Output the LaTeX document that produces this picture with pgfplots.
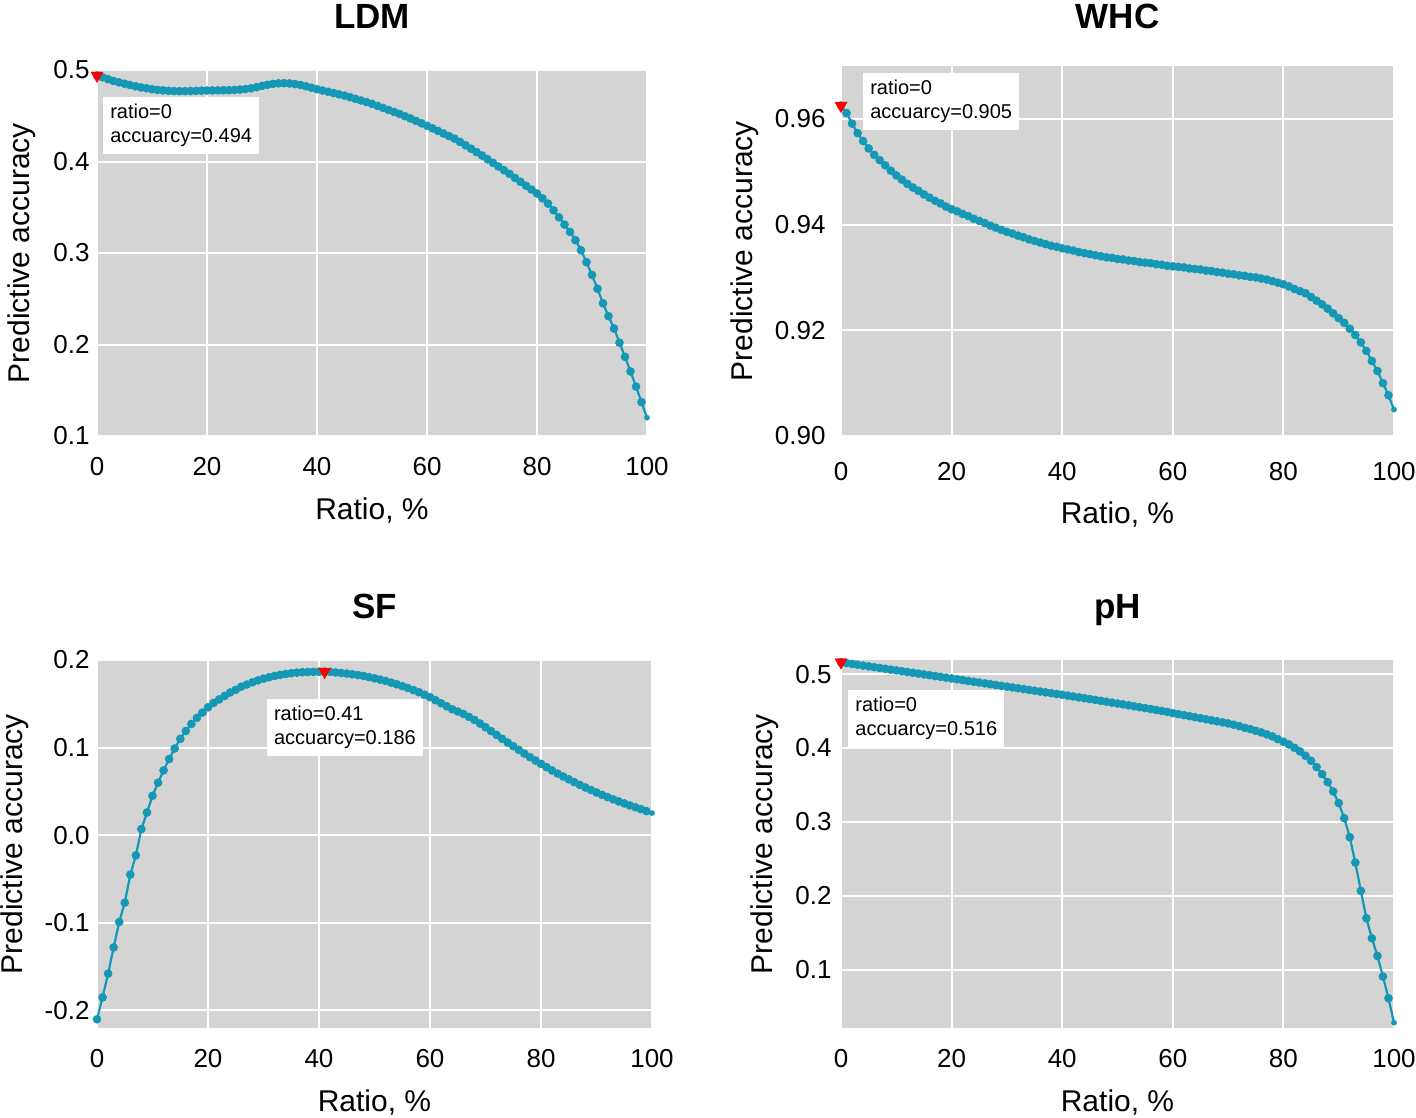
\documentclass[border=0pt]{standalone}
\usepackage{pgfplots}
\usepackage{pgfplotstable}
\pgfplotsset{compat=1.18}
\usepackage{fontspec}
\setmainfont{Liberation Sans}

\definecolor{bggray}{RGB}{212,212,212}
\definecolor{curveblue}{RGB}{20,152,181}

\pgfplotstableread[row sep=\\]{
r v\\
0 0.494\\ 1 0.492\\ 2 0.490\\ 3 0.488\\ 4 0.4865\\ 5 0.485\\ 6 0.4836\\ 7 0.4822\\ 8 0.481\\ 9 0.480\\
10 0.479\\ 11 0.4783\\ 12 0.4777\\ 13 0.4773\\ 14 0.477\\ 15 0.4769\\ 16 0.4769\\ 17 0.477\\ 18 0.4772\\ 19 0.4774\\
20 0.4776\\ 21 0.4777\\ 22 0.4778\\ 23 0.4779\\ 24 0.478\\ 25 0.4782\\ 26 0.4786\\ 27 0.4792\\ 28 0.480\\ 29 0.4812\\
30 0.4826\\ 31 0.4838\\ 32 0.4848\\ 33 0.4854\\ 34 0.4856\\ 35 0.4853\\ 36 0.4846\\ 37 0.4836\\ 38 0.4822\\ 39 0.4806\\
40 0.479\\ 41 0.4776\\ 42 0.4762\\ 43 0.4748\\ 44 0.4734\\ 45 0.472\\ 46 0.4703\\ 47 0.4685\\ 48 0.4667\\ 49 0.4649\\
50 0.463\\ 51 0.4608\\ 52 0.4586\\ 53 0.4564\\ 54 0.4542\\ 55 0.452\\ 56 0.4495\\ 57 0.447\\ 58 0.4444\\ 59 0.4417\\
60 0.439\\ 61 0.4362\\ 62 0.4334\\ 63 0.4306\\ 64 0.4278\\ 65 0.425\\ 66 0.4214\\ 67 0.4177\\ 68 0.414\\ 69 0.4103\\
70 0.4065\\ 71 0.4025\\ 72 0.3985\\ 73 0.3945\\ 74 0.3905\\ 75 0.3865\\ 76 0.382\\ 77 0.3778\\ 78 0.3735\\ 79 0.3693\\
80 0.365\\ 81 0.3597\\ 82 0.354\\ 83 0.3467\\ 84 0.339\\ 85 0.331\\ 86 0.323\\ 87 0.314\\ 88 0.303\\ 89 0.290\\
90 0.276\\ 91 0.261\\ 92 0.245\\ 93 0.231\\ 94 0.2175\\ 95 0.202\\ 96 0.1865\\ 97 0.1705\\ 98 0.154\\ 99 0.137\\
100 0.120\\
}\ldmdata

\pgfplotstableread[row sep=\\]{
r v\\
0 0.9625\\ 1 0.9611\\ 2 0.9591\\ 3 0.9573\\ 4 0.9558\\ 5 0.9544\\ 6 0.9532\\ 7 0.9522\\ 8 0.9512\\ 9 0.9502\\
10 0.9493\\ 11 0.9485\\ 12 0.9477\\ 13 0.947\\ 14 0.9464\\ 15 0.9457\\ 16 0.9451\\ 17 0.9445\\ 18 0.944\\ 19 0.9434\\
20 0.9429\\ 21 0.9425\\ 22 0.942\\ 23 0.9416\\ 24 0.9411\\ 25 0.9407\\ 26 0.9403\\ 27 0.9398\\ 28 0.9394\\ 29 0.939\\
30 0.9386\\ 31 0.9383\\ 32 0.9379\\ 33 0.9376\\ 34 0.9372\\ 35 0.9369\\ 36 0.9366\\ 37 0.9363\\ 38 0.936\\ 39 0.9358\\
40 0.9355\\ 41 0.9353\\ 42 0.9351\\ 43 0.9348\\ 44 0.9346\\ 45 0.9344\\ 46 0.9342\\ 47 0.934\\ 48 0.9338\\ 49 0.9337\\
50 0.9335\\ 51 0.9334\\ 52 0.9332\\ 53 0.9331\\ 54 0.9329\\ 55 0.9328\\ 56 0.9327\\ 57 0.9325\\ 58 0.9324\\ 59 0.9322\\
60 0.9321\\ 61 0.932\\ 62 0.9319\\ 63 0.9317\\ 64 0.9316\\ 65 0.9315\\ 66 0.9313\\ 67 0.9312\\ 68 0.931\\ 69 0.9309\\
70 0.9307\\ 71 0.9306\\ 72 0.9304\\ 73 0.9303\\ 74 0.9301\\ 75 0.93\\ 76 0.9298\\ 77 0.9296\\ 78 0.9293\\ 79 0.929\\
80 0.9287\\ 81 0.9283\\ 82 0.9278\\ 83 0.9274\\ 84 0.927\\ 85 0.9263\\ 86 0.9256\\ 87 0.9249\\ 88 0.9241\\ 89 0.9232\\
90 0.9223\\ 91 0.9214\\ 92 0.9203\\ 93 0.9191\\ 94 0.9177\\ 95 0.9161\\ 96 0.9142\\ 97 0.9123\\ 98 0.910\\ 99 0.9077\\
100 0.905\\
}\whcdata

\pgfplotstableread[row sep=\\]{
r v\\
0 -0.210\\ 1 -0.185\\ 2 -0.158\\ 3 -0.128\\ 4 -0.099\\ 5 -0.077\\ 6 -0.045\\ 7 -0.023\\ 8 0.007\\ 9 0.026\\
10 0.045\\ 11 0.060\\ 12 0.074\\ 13 0.087\\ 14 0.099\\ 15 0.110\\ 16 0.119\\ 17 0.127\\ 18 0.134\\ 19 0.140\\
20 0.146\\ 21 0.151\\ 22 0.155\\ 23 0.159\\ 24 0.163\\ 25 0.166\\ 26 0.1696\\ 27 0.172\\ 28 0.1745\\ 29 0.1767\\
30 0.1787\\ 31 0.1803\\ 32 0.1818\\ 33 0.183\\ 34 0.184\\ 35 0.1849\\ 36 0.1856\\ 37 0.186\\ 38 0.1863\\ 39 0.1865\\
40 0.1866\\ 41 0.1867\\ 42 0.1864\\ 43 0.1858\\ 44 0.1852\\ 45 0.1845\\ 46 0.1837\\ 47 0.1828\\ 48 0.1818\\ 49 0.1805\\
50 0.1791\\ 51 0.1776\\ 52 0.1761\\ 53 0.1742\\ 54 0.1723\\ 55 0.1702\\ 56 0.1681\\ 57 0.1657\\ 58 0.1632\\ 59 0.1604\\
60 0.1575\\ 61 0.1541\\ 62 0.1506\\ 63 0.1472\\ 64 0.1438\\ 65 0.1412\\ 66 0.1385\\ 67 0.1351\\ 68 0.1316\\ 69 0.1275\\
70 0.1233\\ 71 0.1189\\ 72 0.1145\\ 73 0.1101\\ 74 0.1058\\ 75 0.1016\\ 76 0.0974\\ 77 0.0932\\ 78 0.0891\\ 79 0.0853\\
80 0.0815\\ 81 0.0777\\ 82 0.0739\\ 83 0.0704\\ 84 0.067\\ 85 0.0638\\ 86 0.0606\\ 87 0.0575\\ 88 0.0545\\ 89 0.0516\\
90 0.0488\\ 91 0.0461\\ 92 0.0435\\ 93 0.041\\ 94 0.0386\\ 95 0.0363\\ 96 0.034\\ 97 0.0319\\ 98 0.0298\\ 99 0.0275\\
100 0.0253\\
}\sfdata

\pgfplotstableread[row sep=\\]{
r v\\
0 0.516\\ 1 0.5148\\ 2 0.5137\\ 3 0.5126\\ 4 0.5115\\ 5 0.5104\\ 6 0.5093\\ 7 0.5082\\ 8 0.5071\\ 9 0.506\\
10 0.505\\ 11 0.5039\\ 12 0.5028\\ 13 0.5017\\ 14 0.5006\\ 15 0.4995\\ 16 0.4984\\ 17 0.4973\\ 18 0.4962\\ 19 0.4951\\
20 0.494\\ 21 0.4929\\ 22 0.4918\\ 23 0.4907\\ 24 0.4896\\ 25 0.4885\\ 26 0.4874\\ 27 0.4863\\ 28 0.4852\\ 29 0.4841\\
30 0.483\\ 31 0.4819\\ 32 0.4808\\ 33 0.4797\\ 34 0.4786\\ 35 0.4775\\ 36 0.4764\\ 37 0.4753\\ 38 0.4742\\ 39 0.4731\\
40 0.472\\ 41 0.4708\\ 42 0.4697\\ 43 0.4685\\ 44 0.4674\\ 45 0.4662\\ 46 0.465\\ 47 0.4638\\ 48 0.4626\\ 49 0.4614\\
50 0.4602\\ 51 0.459\\ 52 0.4577\\ 53 0.4565\\ 54 0.4552\\ 55 0.454\\ 56 0.4527\\ 57 0.4514\\ 58 0.4501\\ 59 0.4488\\
60 0.4472\\ 61 0.4458\\ 62 0.4445\\ 63 0.4431\\ 64 0.4417\\ 65 0.4403\\ 66 0.4389\\ 67 0.4375\\ 68 0.4361\\ 69 0.4347\\
70 0.4333\\ 71 0.4315\\ 72 0.4297\\ 73 0.4274\\ 74 0.4256\\ 75 0.4233\\ 76 0.4211\\ 77 0.4184\\ 78 0.4157\\ 79 0.412\\
80 0.4085\\ 81 0.4048\\ 82 0.4003\\ 83 0.3954\\ 84 0.3895\\ 85 0.3827\\ 86 0.3742\\ 87 0.3647\\ 88 0.3539\\ 89 0.3413\\
90 0.3255\\ 91 0.3052\\ 92 0.2795\\ 93 0.2452\\ 94 0.2069\\ 95 0.1699\\ 96 0.1428\\ 97 0.1189\\ 98 0.091\\ 99 0.0617\\
100 0.0287\\
}\phdata

\pgfplotsset{
  panel/.style={
    scale only axis, anchor=south west, clip=false,
    xmin=0, xmax=100, xtick={0,20,40,60,80,100},
    axis background/.style={fill=bggray},
    grid=major, major grid style={white, line width=2pt},
    axis line style={draw=none}, major tick length=0pt,
    /pgf/number format/assume math mode=true,
    tick label style={font=\fontsize{26}{30}\selectfont},
    label style={font=\fontsize{30}{36}\selectfont},
    xlabel={Ratio, \%}, ylabel={Predictive accuracy},
    title style={font=\fontsize{35}{42}\selectfont\bfseries, at={(axis description cs:0.5,1)}, anchor=base, yshift=36pt},
    xlabel style={at={(axis description cs:0.5,0)}, anchor=base, yshift=-83pt},
    xticklabel style={anchor=base, yshift=-39pt},
    scaled y ticks=false,
    yticklabel style={anchor=east, /pgf/number format/fixed, /pgf/number format/fixed zerofill, /pgf/number format/precision=1},
  },
  curve/.style={color=curveblue, line width=2.2pt, mark=*, mark size=4pt, mark indices={1,...,100}, mark options={fill=curveblue, draw=curveblue, line width=0.6pt}},
  lastpt/.style={only marks, mark=*, mark size=2.6pt, mark options={fill=curveblue, draw=curveblue, line width=0.4pt}},
  peak/.style={only marks, mark=triangle*, mark size=7pt, mark options={rotate=180, fill=red, draw=red}},
}
\tikzset{
  note/.style={fill=white, anchor=north west, align=left, inner sep=7pt, font=\fontsize{20}{24}\selectfont},
}

\begin{document}
\begin{tikzpicture}
\useasboundingbox (0,0) rectangle (1416pt,-1118pt);

% LDM
\begin{axis}[panel, at={(97pt,-436pt)}, width=550pt, height=366pt,
  ymin=0.1, ymax=0.5, ytick={0.1,0.2,0.3,0.4,0.5}, title={LDM},
  yticklabel style={xshift=-4pt},
  ylabel style={at={(axis description cs:-0.1364,0.5)}, anchor=center}]
\addplot[curve] table[x=r, y=v] {\ldmdata};
\addplot[lastpt] coordinates {(100,0.120)};
\addplot[peak] coordinates {(0,0.494)};
\node[note] at (axis cs:1.1,0.4705) {ratio=0\\accuarcy=0.494};
\end{axis}

% WHC
\begin{axis}[panel, at={(841pt,-436pt)}, width=553pt, height=370pt,
  ymin=0.90, ymax=0.97, ytick={0.90,0.92,0.94,0.96}, title={WHC},
  title style={yshift=-4pt},
  yticklabel style={xshift=-12pt, /pgf/number format/precision=2},
  ylabel style={at={(axis description cs:-0.1736,0.5)}, anchor=center},
  xticklabel style={yshift=-5pt}, xlabel style={yshift=-4pt}]
\addplot[curve] table[x=r, y=v] {\whcdata};
\addplot[lastpt] coordinates {(100,0.905)};
\addplot[peak] coordinates {(0,0.9625)};
\node[note] at (axis cs:4,0.9687) {ratio=0\\accuarcy=0.905};
\end{axis}

% SF
\begin{axis}[panel, at={(97pt,-1028pt)}, width=555pt, height=368pt,
  ymin=-0.22, ymax=0.2, ytick={-0.2,-0.1,0,0.1,0.2}, title={SF},
  yticklabel style={xshift=-4pt},
  ylabel style={at={(axis description cs:-0.1477,0.5)}, anchor=center}]
\addplot[curve] table[x=r, y=v] {\sfdata};
\addplot[lastpt] coordinates {(100,0.0253)};
\addplot[peak] coordinates {(41,0.1867)};
\node[note] at (axis cs:30.6,0.1553) {ratio=0.41\\accuarcy=0.186};
\end{axis}

% pH
\begin{axis}[panel, at={(841pt,-1028pt)}, width=553pt, height=368pt,
  ymin=0.0215, ymax=0.519, ytick={0.1,0.2,0.3,0.4,0.5}, title={pH},
  yticklabel style={xshift=-6pt},
  ylabel style={at={(axis description cs:-0.1374,0.5)}, anchor=center}]
\addplot[curve] table[x=r, y=v] {\phdata};
\addplot[lastpt] coordinates {(100,0.0287)};
\addplot[peak] coordinates {(0,0.516)};
\node[note] at (axis cs:1.3,0.4785) {ratio=0\\accuarcy=0.516};
\end{axis}
\end{tikzpicture}
\end{document}
